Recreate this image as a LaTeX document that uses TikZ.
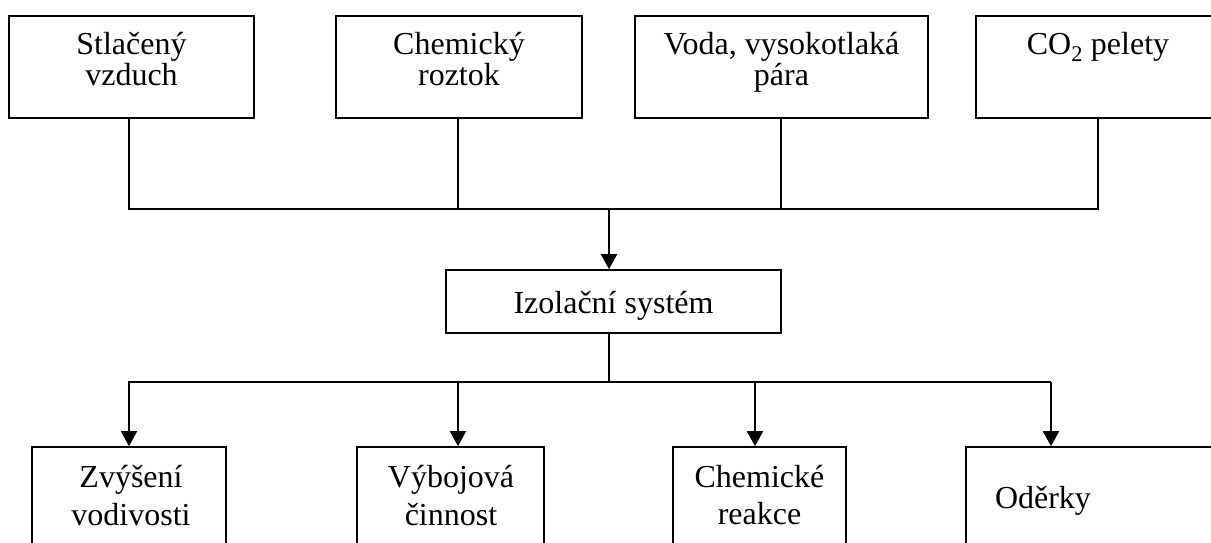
\documentclass[tikz,border=0pt]{standalone}
\usepackage{fontspec}
\setmainfont{Liberation Serif}
\usetikzlibrary{arrows.meta}
\begin{document}
\begin{tikzpicture}[x=1pt,y=-1pt,
  box/.style={draw, line width=1.6pt, inner sep=0pt, rectangle},
  txt/.style={font=\fontsize{32}{38}\selectfont, inner sep=0pt, anchor=base},
  link/.style={line width=1.6pt, line join=miter},
  arr/.style={line width=1.6pt, line join=miter, -{Triangle[width=16pt,length=15pt]}}]
\useasboundingbox (0,0) rectangle (1211,543);
\clip (0,0) rectangle (1211,543);
% top boxes
\node[box, minimum width=245pt, minimum height=102pt] (t1) at (131.5,67) {};
\node[box, minimum width=246pt, minimum height=102pt] (t2) at (459,67) {};
\node[box, minimum width=293pt, minimum height=102pt] (t3) at (781.5,67) {};
\node[box, minimum width=244pt, minimum height=102pt] (t4) at (1098,67) {};
% middle box
\node[box, minimum width=335pt, minimum height=63pt] (m) at (613.5,301.5) {};
% bottom boxes
\node[box, minimum width=194pt, minimum height=100pt] (b1) at (129,497) {};
\node[box, minimum width=187pt, minimum height=100pt] (b2) at (450.5,497) {};
\node[box, minimum width=173pt, minimum height=100pt] (b3) at (759.5,497) {};
\node[box, minimum width=264pt, minimum height=100pt] (b4) at (1098,497) {};
% texts
\node[txt] (t1a) at (131.5,55) {Stlačený};
\node[txt] (t1b) at (131.5,85) {vzduch};
\node[txt] (t2a) at (459,55) {Chemický};
\node[txt] (t2b) at (459,85) {roztok};
\node[txt] (t3a) at (781.5,55) {Voda, vysokotlaká};
\node[txt] (t3b) at (781.5,85) {pára};
\node[txt] (t4a) at (1098,55) {CO\textsubscript{2} pelety};
\node[txt] (ma) at (613.5,313) {Izolační systém};
\node[txt] (b1a) at (131,487) {Zvýšení};
\node[txt] (b1b) at (131,525) {vodivosti};
\node[txt] (b2a) at (451,487) {Výbojová};
\node[txt] (b2b) at (451,525) {činnost};
\node[txt] (b3a) at (759.5,487) {Chemické};
\node[txt] (b3b) at (759.5,524) {reakce};
\node[txt] (b4a) at (1043,508) {Oděrky};
% junction coordinates
\coordinate (j1) at (129,209);
\coordinate (j2) at (458,209);
\coordinate (j3) at (781,209);
\coordinate (j4) at (1098,209);
\coordinate (jm) at (609,209);
\coordinate (km) at (609,382);
\coordinate (k1) at (129,382);
\coordinate (k2) at (458,382);
\coordinate (k3) at (755,382);
\coordinate (k4) at (1051,382);
% upper connectors
\draw[link] (t1.south -| j1) -- (j1) -- (j4) -- (t4.south -| j4);
\draw[link] (t2.south -| j2) -- (j2);
\draw[link] (t3.south -| j3) -- (j3);
\draw[arr] (jm) -- (jm |- m.north);
% lower connectors
\draw[link] (m.south -| km) -- (km);
\draw[arr] (k4) -- (k1) -- (k1 |- b1.north);
\draw[arr] (k2) -- (k2 |- b2.north);
\draw[arr] (k3) -- (k3 |- b3.north);
\draw[arr] (k1 -| k4) -- (k4 |- b4.north);
\end{tikzpicture}
\end{document}
